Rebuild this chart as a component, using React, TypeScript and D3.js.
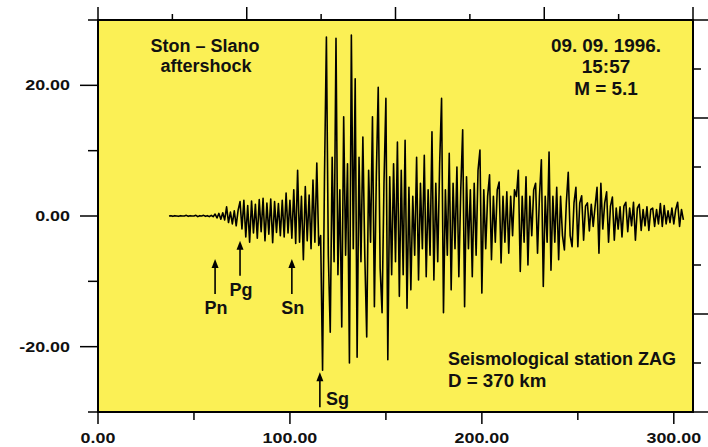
import { scaleLinear, line as d3line, curveLinear } from "d3";

// seismogram, ZAG station, one sample per second (amplitudes)
const SAMPLE_STEP = 1;

const preEventStart = 37;
const preEvent = [
  0, 0.05, -0.05, 0.05, 0, -0.05, 0.05, 0, 0, 0.1,
  -0.05, 0.05, 0, 0, 0.1, -0.1, 0.05, 0, 0.1, -0.05,
  0.05, -0.1, 0.1, -0.1,
];

const pWavesStart = 61;
const pWaves = [
  0.3, -0.3, 0.4, -0.5, 0.5, -0.6, 1.4, -1.0, 0.6, -1.2,
  0.8, -1.5, 0.9, 2.2, -2.0, 2.4, -3.2, 1.6, -4.0, 2.3,
  -2.6, 1.8, -3.4, 2.5, -2.4, 2.7, -3.8, 2.0, -2.8, 2.6,
  -4.1, 2.2, -2.5, 1.9, -3.0, 2.4, -3.2, 3.5, -2.6, 2.4,
  -3.4, 4.0, -4.2, 7.0, -4.0, 3.0, -6.7, 4.5, -3.8, 3.2,
  -5.0, 5.5, -4.0, 8.1, -4.5,
];

const sWavesStart = 116;
const sWaves = [
  -3.0, -23.6, 6.0, 27.4, -6.0, -17.8, 9.0, -7.0, 27.2, -9.0,
  4.0, -17.0, 15.2, -6.0, 8.0, -22.5, 27.7, -5.0, 21.0, -21.6,
  9.0, -7.0, 12.1, -6.0, -18.5, 7.0, -4.0, 15.2, -13.9, 6.0,
  19.7, -8.0, -14.8, 5.0, 18.0, -22.0, 6.0, -9.0, 8.0, -7.0,
  11.3, -12.3, 7.0, -9.0, 11.6,
];

const codaStart = 161;
const coda = [
  -14.1, 4.4, -11.3, 3.0, -6.0, 9.0, -9.8, 5.0, -5.0, 9.3,
  -9.3, 4.0, -6.0, 12.9, -9.8, 5.0, -7.0, 8.0, 18.0, -14.8,
  4.0, -6.0, 9.6, -11.3, 5.0, -5.0, 7.5, -9.3, 4.0, 13.2,
  -13.9, 6.0, -5.0, 4.0, -9.3, 5.0, -6.0, 7.0, 10.1, -11.8,
  4.0, -5.0, 3.0, 6.3, -6.7, 3.0, -4.0, 4.0, 5.2, -7.2,
  3.0, -4.0, 3.7, -5.7, 3.0, -3.0, 4.0, 3.0, 7.0, -8.5,
  3.0, -4.0, 6.0, -7.5, 3.0, -3.0, 4.0, 5.0, -5.7, 3.0,
];

const lateCodaStart = 231;
const lateCoda = [
  8.6, -10.8, 3.0, -4.0, 9.8, -8.3, 3.0, -4.0, 4.4, -6.7,
  3.0, -3.0, -5.2, 2.0, 6.7, -3.0, -4.7, 2.0, 4.4, -4.7,
  2.0, 3.1, -3.7, 1.5, 2.0, -2.3, 1.8, -1.6, 1.5, 4.4,
  -5.7, 5.0, -2.0, 2.0, 3.7, -4.0, 1.5, 2.9, -3.7, 1.2,
  -2.0, 1.4, -3.2, 1.5, 2.1, -2.4, 1.2, -1.5, 2.1, -3.7,
  1.2, 1.8, -2.2, 1.0, -1.5, 1.4, -2.2, 1.0, 1.2, -1.6,
  1.0, -1.2, 1.9, -1.6, 1.6, -1.2, 0.8, -1.0, 1.2, -1.2,
  1.0, 2.1, -1.6, 1.0, -0.6,
];

const xTicks = [0, 50, 100, 150, 200, 250, 300];
const xTickLabels = ["0.00", "", "100.00", "", "200.00", "", "300.00"];
const yTicks = [-30, -20, -10, 0, 10, 20, 30];
const yTickLabels = ["", "-20.00", "", "0.00", "", "20.00", ""];

// phase picks: name, onset time, amplitude the arrow points to
const phaseNames = ["Pn", "Pg", "Sn", "Sg"];
const phaseTimes = [61, 74, 101, 115.6];
const phaseTips = [-6.6, -3.8, -6.6, -23.9];

const W = 708;
const H = 447;
const plot = { left: 98, right: 693, top: 20, bottom: 412 };
const YELLOW = "#fbf055";
const FONT = "'Liberation Sans', Arial, Helvetica, sans-serif";

function segment(start: number, values: number[]) {
  return values.map((v, i) => ({ t: start + i * SAMPLE_STEP, v }));
}

const trace = [
  ...segment(preEventStart, preEvent),
  ...segment(pWavesStart, pWaves),
  ...segment(sWavesStart, sWaves),
  ...segment(codaStart, coda),
  ...segment(lateCodaStart, lateCoda),
];

function Txt({ x, y, anchor = "start", size = 18, sx = 1, children }: any) {
  return (
    <text
      transform={`translate(${x},${y}) scale(${sx},1)`}
      textAnchor={anchor}
      fontSize={size}
      fontWeight="bold"
      fill="#111"
    >
      {children}
    </text>
  );
}

export default function App() {
  const x = scaleLinear().domain([0, 310]).range([plot.left, plot.right]);
  const y = scaleLinear().domain([-30, 30]).range([plot.bottom, plot.top]);
  // unlabeled frame ticks on top and right
  const top = scaleLinear().domain([0, 8]).range([plot.left, plot.right]);
  const right = scaleLinear().domain([0, 8]).range([plot.bottom, plot.top]);

  const path = d3line<{ t: number; v: number }>()
    .x((d) => x(d.t))
    .y((d) => y(d.v))
    .curve(curveLinear)(trace) ?? "";

  return (
    <svg
      width={W}
      height={H}
      style={{ position: "absolute", left: 0, top: 0, background: "#fff" }}
      fontFamily={FONT}
    >
      <rect
        x={plot.left}
        y={plot.top}
        width={plot.right - plot.left}
        height={plot.bottom - plot.top}
        fill={YELLOW}
      />

      {/* trace */}
      <path d={path} fill="none" stroke="#000" strokeWidth={1.6} strokeLinejoin="round" />

      {/* frame */}
      <rect
        x={plot.left}
        y={plot.top}
        width={plot.right - plot.left}
        height={plot.bottom - plot.top}
        fill="none"
        stroke="#000"
        strokeWidth={2}
      />

      {/* bottom axis */}
      {xTicks.map((t, i) => (
        <g key={"x" + t}>
          <line
            x1={x(t)}
            x2={x(t)}
            y1={plot.bottom}
            y2={plot.bottom + (xTickLabels[i] ? 12 : 8)}
            stroke="#000"
            strokeWidth={1.5}
          />
          {xTickLabels[i] && (
            <Txt x={x(t)} y={443} anchor="middle" size={14} sx={1.28}>
              {xTickLabels[i]}
            </Txt>
          )}
        </g>
      ))}

      {/* left axis */}
      {yTicks.map((v, i) => (
        <g key={"y" + v}>
          <line
            x1={plot.left - (yTickLabels[i] ? 18 : 10)}
            x2={plot.left}
            y1={y(v)}
            y2={y(v)}
            stroke="#000"
            strokeWidth={1.5}
          />
          {yTickLabels[i] && (
            <Txt x={70} y={y(v) + 5} anchor="end" size={14} sx={1.28}>
              {yTickLabels[i]}
            </Txt>
          )}
        </g>
      ))}

      {/* top axis */}
      {top.ticks(8).map((t) => (
        <line
          key={"t" + t}
          x1={top(t)}
          x2={top(t)}
          y1={plot.top}
          y2={plot.top - (t % 2 === 0 ? 13 : 6)}
          stroke="#000"
          strokeWidth={1.5}
        />
      ))}

      {/* right axis */}
      {right.ticks(8).map((t) => (
        <line
          key={"r" + t}
          x1={plot.right}
          x2={plot.right + (t % 2 === 0 ? 15 : 8)}
          y1={right(t)}
          y2={right(t)}
          stroke="#000"
          strokeWidth={1.5}
        />
      ))}

      {/* phase arrows */}
      {phaseNames.map((name, i) => {
        const ax = x(phaseTimes[i]);
        const tip = y(phaseTips[i]);
        const tail = tip + 35;
        const side = name === "Sg";
        return (
          <g key={name}>
            <line x1={ax} x2={ax} y1={tip + 6} y2={tail} stroke="#000" strokeWidth={1.6} />
            <path d={`M${ax},${tip} L${ax - 3.5},${tip + 9} L${ax + 3.5},${tip + 9} Z`} fill="#000" />
            {side ? (
              <Txt x={ax + 6} y={tail - 2}>{name}</Txt>
            ) : (
              <Txt x={ax + 1} y={tail + 20} anchor="middle">{name}</Txt>
            )}
          </g>
        );
      })}

      {/* annotations */}
      <Txt x={205} y={52} anchor="middle">Ston – Slano</Txt>
      <Txt x={206} y={72} anchor="middle">aftershock</Txt>
      <Txt x={606} y={52} anchor="middle" sx={1.05}>09. 09. 1996.</Txt>
      <Txt x={606} y={73} anchor="middle" sx={1.05}>15:57</Txt>
      <Txt x={606} y={95} anchor="middle" sx={1.05}>M = 5.1</Txt>
      <Txt x={448} y={365}>Seismological station ZAG</Txt>
      <Txt x={448} y={387} sx={1.04}>D = 370 km</Txt>
    </svg>
  );
}
